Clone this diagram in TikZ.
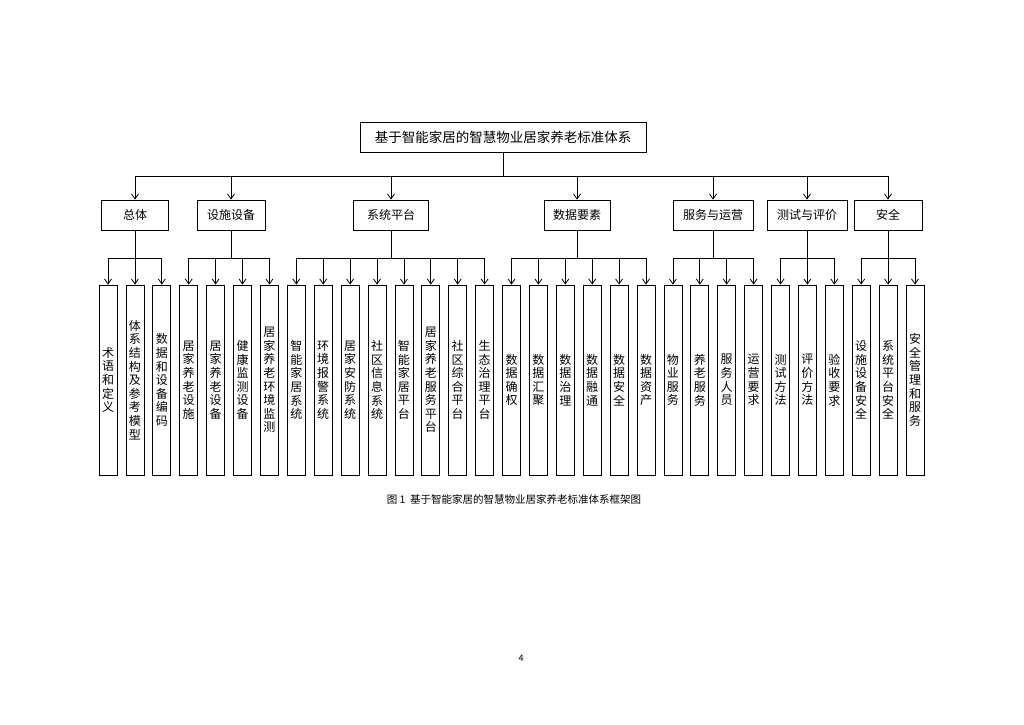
\documentclass[tikz,border=0pt]{standalone}
\usepackage{fontspec}
\setmainfont{Noto Sans CJK SC}
\usetikzlibrary{arrows.meta, positioning, calc}

\begin{document}
\begin{tikzpicture}[
        x=1pt, y=1pt,
        line width=0.8pt,
        root/.style={
            rectangle,
            draw,
            minimum width=286pt,
            minimum height=30pt,
            font=\fontsize{13.5}{15}\selectfont
        },
        cat/.style={
            rectangle,
            draw,
            minimum width=67pt,
            minimum height=30pt,
            font=\fontsize{12}{14}\selectfont
        },
        leaf/.style={
            rectangle,
            draw,
            inner sep=0pt,
            align=center,
            minimum width=18pt,
            minimum height=190pt,
            font=\fontsize{12}{13.6}\selectfont
        },
        arr/.style={-{Straight Barb[length=5pt, width=7pt]}}
    ]

    % Page
    \path[fill=white, use as bounding box] (0,0) rectangle (1024,-724);

    % Top of the tree
    \node[root] (root) at (503,-137) {基于智能家居的智慧物业居家养老标准体系};

    % Second level
    \node[cat] (zt) at (135,-215) {总体};
    \node[cat, minimum width=68pt] (ss) at (231,-215) {设施设备};
    \node[cat, minimum width=75pt] (xt) at (391,-215) {系统平台};
    \node[cat, minimum width=66pt] (sj) at (577,-215) {数据要素};
    \node[cat, minimum width=80pt] (fw) at (713,-215) {服务与运营};
    \node[cat, minimum width=80pt] (cs) at (807,-215) {测试与评价};
    \node[cat, minimum width=68pt] (aq) at (888,-215) {安全};

    \foreach \c in {zt, ss, xt, sj, fw, cs, aq}
        \draw[arr] (root.south) -- ++(0,-24) -| (\c.north);

    % Third level
    \foreach \i/\txt in {
        0/{术\\语\\和\\定\\义},
        1/{体\\系\\结\\构\\及\\参\\考\\模\\型},
        2/{数\\据\\和\\设\\备\\编\\码},
        3/{居\\家\\养\\老\\设\\施},
        4/{居\\家\\养\\老\\设\\备},
        5/{健\\康\\监\\测\\设\\备},
        6/{居\\家\\养\\老\\环\\境\\监\\测},
        7/{智\\能\\家\\居\\系\\统},
        8/{环\\境\\报\\警\\系\\统},
        9/{居\\家\\安\\防\\系\\统},
        10/{社\\区\\信\\息\\系\\统},
        11/{智\\能\\家\\居\\平\\台},
        12/{居\\家\\养\\老\\服\\务\\平\\台},
        13/{社\\区\\综\\合\\平\\台},
        14/{生\\态\\治\\理\\平\\台},
        15/{数\\据\\确\\权},
        16/{数\\据\\汇\\聚},
        17/{数\\据\\治\\理},
        18/{数\\据\\融\\通},
        19/{数\\据\\安\\全},
        20/{数\\据\\资\\产},
        21/{物\\业\\服\\务},
        22/{养\\老\\服\\务},
        23/{服\\务\\人\\员},
        24/{运\\营\\要\\求},
        25/{测\\试\\方\\法},
        26/{评\\价\\方\\法},
        27/{验\\收\\要\\求},
        28/{设\\施\\设\\备\\安\\全},
        29/{系\\统\\平\\台\\安\\全},
        30/{安\\全\\管\\理\\和\\服\\务}}
        \node[leaf] (l\i) at ({108+26.9*\i},-380) {\txt};

    \foreach \c/\a/\b in {zt/0/2, ss/3/6, xt/7/14, sj/15/20, fw/21/24, cs/25/27, aq/28/30}
        \foreach \i in {\a,...,\b}
            \draw[arr] (\c.south) -- ++(0,-28) -| (l\i.north);

    % Caption and page number
    \node[font=\fontsize{10.5}{12}\selectfont] (cap) at (514,-499) {图 1\ \ 基于智能家居的智慧物业居家养老标准体系框架图};
    \node[font=\fontsize{9}{10}\selectfont] (pg) at (521,-658) {4};

\end{tikzpicture}
\end{document}
